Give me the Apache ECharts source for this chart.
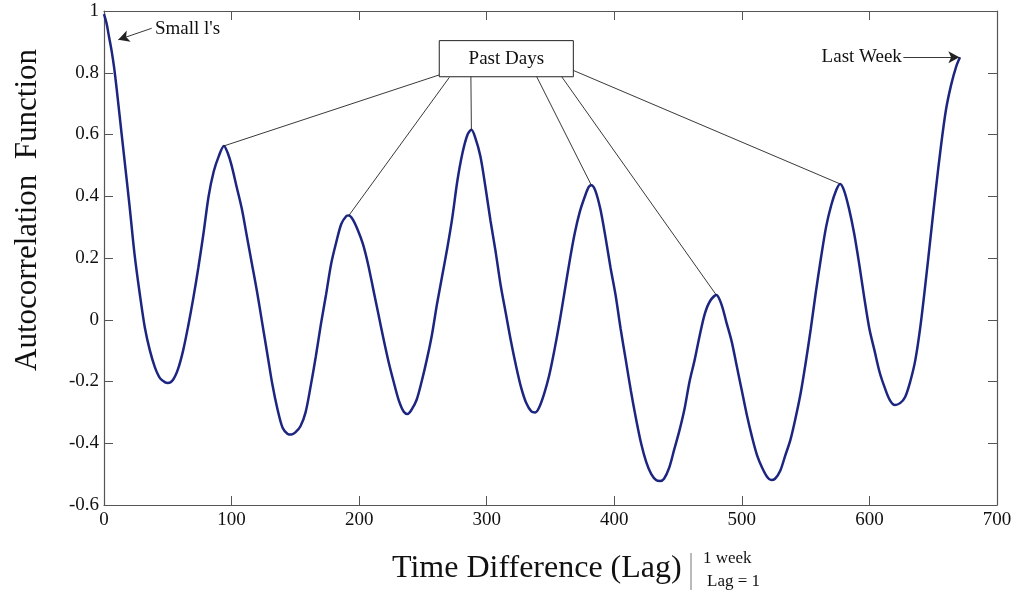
<!DOCTYPE html>
<html>
<head>
<meta charset="utf-8">
<script src="https://cdn.jsdelivr.net/npm/echarts@6/dist/echarts.min.js"></script>
<style>
html,body{margin:0;padding:0;background:#fff;}
#chart{width:1015px;height:594px;}
</style>
</head>
<body>
<div id="chart"></div>
<script>
// ---- data ----
const lags = [0,2,4,6,8,10,12,16,20,24,28,32,36,40,44,48,50,54,58,62,66,70,74,78,82,86,90,94,97,100,104,108,112,116,120,124,128,132,136,140,144,147,150,154,158,162,166,170,174,178,182,186,190,192,195,199,203,207,211,215,219,223,227,231,235,238,241,245,249,253,257,261,265,269,273,277,281,285,288,291,295,299,303,307,311,315,319,323,327,331,335,338,341,345,349,353,357,361,365,369,373,377,380,382,385,389,393,397,401,405,409,413,417,421,425,429,433,436,439,443,447,451,455,459,463,467,471,475,480,484,488,492,496,500,504,508,512,516,520,523,526,530,534,538,542,546,550,554,558,562,566,570,574,577,580,584,588,592,596,600,604,608,612,616,620,624,628,632,636,640,644,648,652,656,660,664,668,671];
const acf = [0.99,0.96,0.915,0.87,0.815,0.745,0.67,0.52,0.37,0.21,0.085,-0.025,-0.1,-0.155,-0.19,-0.203,-0.205,-0.195,-0.16,-0.1,-0.02,0.07,0.17,0.28,0.4,0.48,0.53,0.563,0.54,0.5,0.43,0.36,0.27,0.18,0.09,-0.01,-0.11,-0.21,-0.29,-0.35,-0.37,-0.372,-0.365,-0.345,-0.3,-0.215,-0.12,-0.015,0.08,0.18,0.25,0.31,0.336,0.338,0.325,0.29,0.245,0.18,0.1,0.02,-0.06,-0.135,-0.2,-0.26,-0.298,-0.305,-0.292,-0.26,-0.2,-0.13,-0.05,0.05,0.14,0.23,0.33,0.45,0.54,0.6,0.615,0.59,0.53,0.43,0.32,0.22,0.11,0.02,-0.07,-0.15,-0.22,-0.27,-0.297,-0.3,-0.285,-0.24,-0.18,-0.1,-0.01,0.09,0.19,0.28,0.35,0.4,0.43,0.436,0.42,0.36,0.27,0.17,0.08,-0.03,-0.13,-0.23,-0.32,-0.4,-0.46,-0.5,-0.52,-0.522,-0.515,-0.48,-0.42,-0.36,-0.29,-0.2,-0.13,-0.05,0.02,0.06,0.08,0.05,-0.01,-0.07,-0.15,-0.23,-0.31,-0.38,-0.44,-0.48,-0.51,-0.519,-0.515,-0.49,-0.44,-0.39,-0.32,-0.24,-0.14,-0.03,0.09,0.2,0.3,0.37,0.42,0.44,0.42,0.36,0.28,0.18,0.07,-0.03,-0.1,-0.17,-0.22,-0.26,-0.276,-0.27,-0.25,-0.2,-0.13,-0.02,0.12,0.27,0.42,0.56,0.68,0.76,0.82,0.85];
const xTicks = [0,100,200,300,400,500,600,700];
const yTicks = [-0.6,-0.4,-0.2,0,0.2,0.4,0.6,0.8,1];
const pastDayLags = [94,192,288,382,480,577];
const texts = {
  xTitle: 'Time Difference (Lag)',
  xSup: '1 week',
  xSub: 'Lag = 1',
  yTitle: 'Autocorrelation  Function',
  box: 'Past Days',
  small: "Small l's",
  last: 'Last Week'
};

// ---- build ----
const seriesData = lags.map((l, i) => [l, acf[i]]);
function peakAt(lag) {
  let best = null;
  for (let i = 0; i < lags.length; i++) {
    if (Math.abs(lags[i] - lag) <= 6 && (best === null || acf[i] > acf[best])) best = i;
  }
  return [lags[best], acf[best]];
}
const SERIF = '"Liberation Serif", "DejaVu Serif", serif';
const TXT = '#111';
const AXC = '#555';

// start points on the box edge (data units)
const leaderStarts = [[262.8,0.793],[270.7,0.785],[287.6,0.787],[339.2,0.787],[358.8,0.787],[368.2,0.807]];
const leaders = pastDayLags.map((lag, i) => [
  {coord: leaderStarts[i], symbol: 'none'},
  {coord: peakAt(lag), symbol: 'none'}
]);
const arrows = [
  [{coord: [37.4, 0.944], symbol: 'none'}, {coord: [11.2, 0.907], symbol: 'arrow'}],
  [{coord: [626.6, 0.849], symbol: 'none'}, {coord: [lags[lags.length-1] - 0.5, acf[acf.length-1]], symbol: 'arrow'}]
];

const chart = echarts.init(document.getElementById('chart'), null, {renderer: 'canvas'});
const fmtY = v => String(parseFloat(v.toFixed(1)));
const baseX = {
  type: 'value', min: xTicks[0], max: xTicks[xTicks.length-1], interval: 100,
  splitLine: {show: false},
  axisLine: {show: true, lineStyle: {color: AXC, width: 1.2}},
  axisTick: {show: true, inside: true, length: 9, lineStyle: {color: AXC}}
};
const baseY = {
  type: 'value', min: yTicks[0], max: yTicks[yTicks.length-1], interval: 0.2,
  splitLine: {show: false},
  axisLine: {show: true, onZero: false, lineStyle: {color: AXC, width: 1.2}},
  axisTick: {show: true, inside: true, length: 9, lineStyle: {color: AXC}}
};
chart.setOption({
  animation: false,
  backgroundColor: '#fff',
  grid: {left: 104, right: 18, top: 11, bottom: 89, containLabel: false},
  xAxis: [
    Object.assign({}, baseX, {position: 'bottom',
      axisLine: {show: true, onZero: false, lineStyle: {color: AXC, width: 1.2}},
      axisLabel: {show: true, margin: 6, fontSize: 19, fontFamily: SERIF, color: TXT}}),
    Object.assign({}, baseX, {position: 'top',
      axisLine: {show: true, onZero: false, lineStyle: {color: AXC, width: 1.2}},
      axisLabel: {show: false}})
  ],
  yAxis: [
    Object.assign({}, baseY, {position: 'left',
      axisLabel: {show: true, margin: 5, fontSize: 19, fontFamily: SERIF, color: TXT, formatter: fmtY}}),
    Object.assign({}, baseY, {position: 'right', axisLabel: {show: false}})
  ],
  series: [{
    type: 'line',
    xAxisIndex: 0, yAxisIndex: 0,
    data: seriesData,
    showSymbol: false,
    smooth: 0.3,
    silent: true,
    lineStyle: {color: '#1c2580', width: 2.5},
    itemStyle: {color: '#1c2580'},
    markArea: {
      silent: true,
      itemStyle: {color: '#fff', borderColor: '#222', borderWidth: 1},
      label: {show: true, position: 'inside', fontSize: 19, fontFamily: SERIF, color: TXT},
      data: [[{coord: [262.8, 0.904], name: texts.box}, {coord: [367.9, 0.787]}]]
    },
    markLine: {
      silent: true,
      animation: false,
      symbolSize: [9, 11],
      label: {show: false},
      emphasis: {disabled: true},
      lineStyle: {color: '#222', width: 0.9, type: 'solid'},
      data: leaders.concat(arrows)
    },
    markPoint: {
      silent: true,
      symbol: 'circle',
      symbolSize: 1,
      itemStyle: {color: 'rgba(0,0,0,0)'},
      data: [
        {coord: [39.5, 0.942], label: {show: true, position: 'right', distance: 0, formatter: texts.small, fontSize: 19, fontFamily: SERIF, color: TXT}},
        {coord: [625.8, 0.851], label: {show: true, position: 'left', distance: 0, formatter: texts.last, fontSize: 19, fontFamily: SERIF, color: TXT}}
      ]
    }
  }],
  graphic: [
    {type: 'text', x: 392, y: 569, style: {text: texts.xTitle, font: '32px ' + SERIF, fill: TXT, verticalAlign: 'middle', align: 'left'}},
    {type: 'line', shape: {x1: 691, y1: 553, x2: 691, y2: 590}, style: {stroke: '#777', lineWidth: 1}},
    {type: 'text', x: 703, y: 559, style: {text: texts.xSup, font: '17px ' + SERIF, fill: TXT, verticalAlign: 'middle', align: 'left'}},
    {type: 'text', x: 707, y: 582, style: {text: texts.xSub, font: '17px ' + SERIF, fill: TXT, verticalAlign: 'middle', align: 'left'}},
    {type: 'text', x: 28, y: 210, rotation: Math.PI / 2, style: {text: texts.yTitle, font: '31px ' + SERIF, fill: TXT, verticalAlign: 'middle', align: 'center'}}
  ]
});
</script>
</body>
</html>
